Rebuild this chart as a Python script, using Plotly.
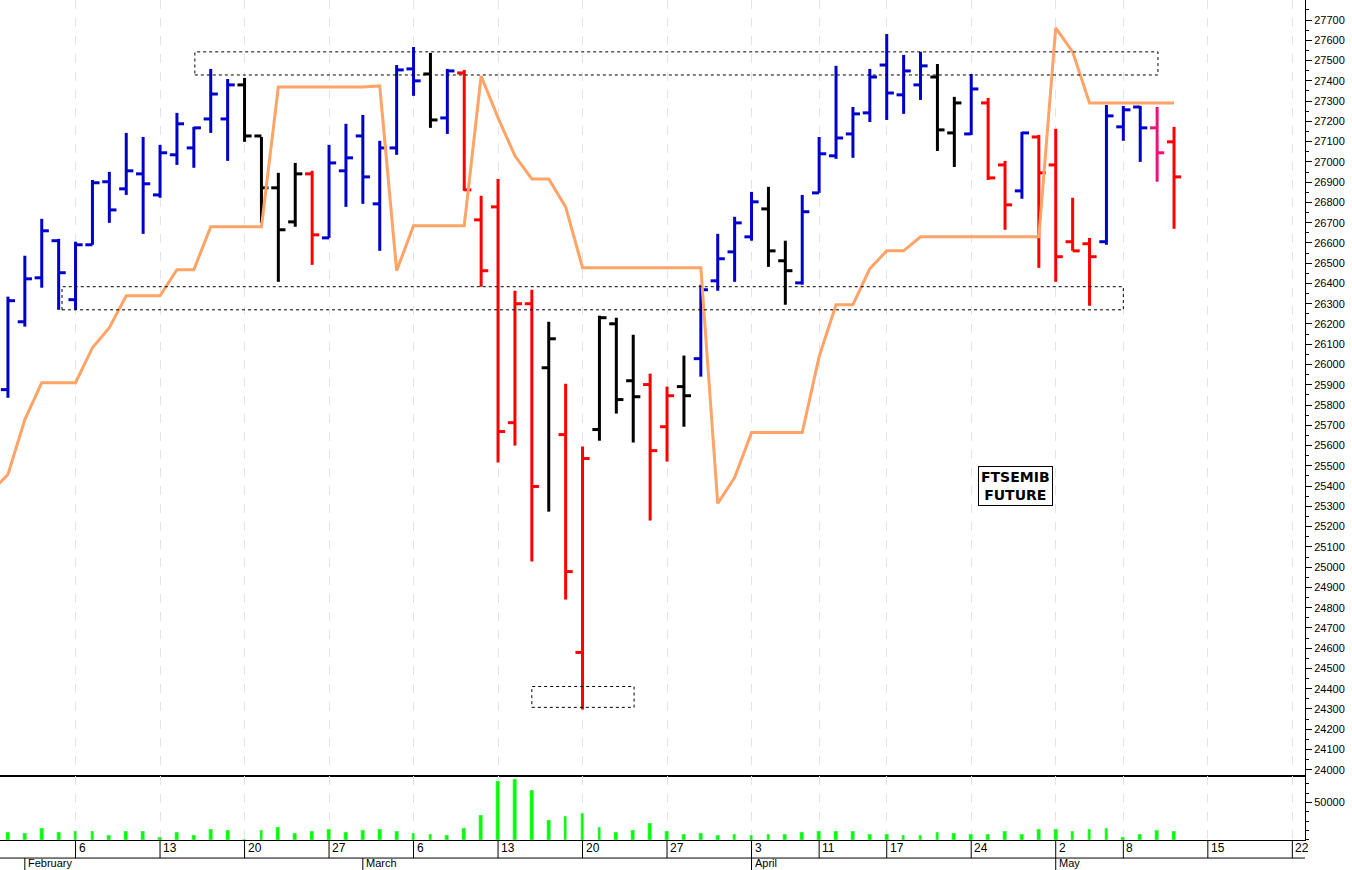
import plotly.graph_objects as go
from plotly.subplots import make_subplots

# daily bars, index 0 = 31 Jan
opens = [25876, 26211, 26428, 26611, 26320, 26591, 26902, 26867, 26941, 26837,
         27035, 27069, 27212, 27212, 27380, 27128, 26872, 26704, 26941, 26625,
         26956, 27128, 26793, 27069, 27459, 27434, 27217, 27439, 26714, 26778,
         25713, 26300, 25984, 25654, 24579, 25679, 26201, 25920, 25901, 25693,
         25891, 26029, 26413, 26556, 26630, 26768, 26512, 26403, 26847, 27030,
         27138, 27242, 27478, 27331, 27380, 27419, 27143, 27138, 27291, 26985,
         26857, 27123, 26985, 26606, 26596, 26606, 27173, 27271, 27168, 27099]
highs = [26335, 26537, 26719, 26620, 26606, 26911, 26951, 27143, 27123, 27084,
         27242, 27173, 27459, 27409, 27414, 27123, 26946, 26995, 26956, 27084,
         27188, 27232, 27104, 27478, 27567, 27538, 27459, 27454, 26833, 26916,
         26364, 26369, 26211, 25905, 25595, 26241, 26231, 26147, 25955, 25891,
         26044, 26394, 26645, 26729, 26852, 26877, 26611, 26837, 27123, 27474,
         27271, 27459, 27631, 27528, 27543, 27483, 27321, 27434, 27316, 27005,
         27148, 27133, 27163, 26823, 26625, 27281, 27276, 27276, 27271, 27173]
lows = [25836, 26187, 26379, 26270, 26270, 26591, 26699, 26837, 26645, 26823,
        26985, 26971, 27143, 27005, 27099, 26699, 26408, 26680, 26492, 26625,
        26778, 26793, 26561, 27035, 27326, 27168, 27138, 26857, 26384, 25516,
        25600, 25028, 25274, 24840, 24298, 25624, 25758, 25615, 25230, 25521,
        25693, 25940, 26364, 26408, 26611, 26482, 26295, 26394, 26847, 27015,
        27020, 27197, 27207, 27237, 27306, 27054, 26975, 27133, 26911, 26665,
        26818, 26477, 26408, 26561, 26290, 26591, 27104, 27000, 26902, 26670]
closes = [26315, 26423, 26660, 26453, 26591, 26897, 26763, 26956, 26892, 27045,
          27188, 27168, 27335, 27380, 27128, 26872, 26665, 26941, 26640, 26995,
          27020, 26926, 27069, 27454, 27400, 27207, 27449, 26862, 26463, 25669,
          26300, 25398, 26127, 24978, 25536, 26231, 25827, 25841, 25575, 25846,
          25846, 26369, 26522, 26699, 26803, 26561, 26463, 26754, 27040, 27118,
          27237, 27419, 27340, 27449, 27474, 27158, 27291, 27360, 26921, 26788,
          27143, 26946, 26532, 26561, 26532, 27227, 27257, 27168, 27045, 26926]
bar_colors = (["blue"] * 14 + ["black"] * 4 + ["red"] + ["blue"] * 6 + ["black"] + ["blue"]
              + ["red"] * 5 + ["black"] + ["red"] * 2 + ["black"] * 3 + ["red"] * 2 + ["black"]
              + ["blue"] * 4 + ["black"] * 2 + ["blue"] * 8 + ["black"] * 2 + ["blue"]
              + ["red"] * 2 + ["blue"] + ["red"] * 4 + ["blue"] * 3 + ["pink"] + ["red"])
volumes = [10800, 9000, 15800, 10800, 11300, 12200, 6300, 11700, 12200, 4000,
           9900, 6800, 14400, 13500, 1400, 13100, 17100, 9500, 11700, 14400,
           10800, 13100, 14400, 11700, 9500, 8100, 6800, 16200, 32400, 77900,
           81100, 66200, 27000, 31100, 36000, 17600, 10400, 13100, 23000, 11700,
           8100, 9000, 5900, 7700, 6300, 7200, 7700, 10400, 11300, 11700,
           11700, 7200, 7700, 5900, 5900, 10400, 9000, 7700, 7700, 11300,
           7700, 14000, 14000, 11300, 14000, 15300, 3600, 7200, 13100, 11700]

# orange trailing line, index -1 .. 69
line_vals = [25373, 25457, 25728, 25910, 25910, 25910, 26083, 26182, 26339, 26339,
             26339, 26468, 26468, 26680, 26680, 26680, 26680, 27370, 27370, 27370,
             27370, 27370, 27370, 27375, 26463, 26685, 26685, 26685, 26685, 27424,
             27217, 27030, 26916, 26916, 26778, 26478, 26478, 26478, 26478, 26478,
             26478, 26478, 26478, 25314, 25442, 25664, 25664, 25664, 25664, 26039,
             26295, 26295, 26473, 26561, 26561, 26630, 26630, 26630, 26630, 26630,
             26630, 26630, 26630, 27661, 27543, 27291, 27291, 27291, 27291, 27291,
             27291]

week_idx = [-1, 4, 9, 14, 19, 24, 29, 34, 39, 44, 48, 52, 57, 62, 66, 71, 76]
week_lbl = ["30", "6", "13", "20", "27", "6", "13", "20", "27", "3", "11", "17", "24", "2", "8", "15", "22"]
month_idx = [1, 21, 44, 62]
month_lbl = ["February", "March", "April", "May"]

palette = {"blue": "#0000CC", "black": "#000000", "red": "#FF0000", "pink": "#F0107A"}
FONT = "Liberation Sans, Arial, sans-serif"

fig = make_subplots(rows=2, cols=1, shared_xaxes=True, vertical_spacing=0.0012,
                    row_heights=[0.924, 0.076])

# bars drawn as open-left / close-right ticks
for cname, col in palette.items():
    xs, ys = [], []
    for i in range(len(opens)):
        if bar_colors[i] != cname:
            continue
        xs += [i, i, None, i - 0.42, i, None, i, i + 0.42, None]
        ys += [lows[i], highs[i], None, opens[i], opens[i], None, closes[i], closes[i], None]
    fig.add_trace(go.Scatter(x=xs, y=ys, mode="lines", line=dict(color=col, width=3),
                             hoverinfo="skip", showlegend=False), row=1, col=1)

fig.add_trace(go.Scatter(x=list(range(-1, len(line_vals) - 1)), y=line_vals, mode="lines",
                         line=dict(color="#FFA366", width=3), showlegend=False), row=1, col=1)

fig.add_trace(go.Bar(x=list(range(len(volumes))), y=volumes, marker_color="#00FF00",
                     width=0.22, showlegend=False), row=2, col=1)

# dashed zones
for x0, x1, y0, y1 in [(11.06, 68.05, 27429, 27543), (3.2, 66.0, 26270, 26384), (31.0, 37.05, 24308, 24411)]:
    fig.add_shape(type="rect", x0=x0, x1=x1, y0=y0, y1=y1, xref="x", yref="y",
                  line=dict(color="black", width=1, dash="dot"))

fig.add_annotation(x=59.6, y=25400, xref="x", yref="y", text="<b>FTSEMIB<br>FUTURE</b>",
                   showarrow=False, bordercolor="black", borderwidth=1, bgcolor="white",
                   font=dict(family="DejaVu Sans", size=14, color="black"), borderpad=2)

# bottom date rows
for xi, t in zip(week_idx, week_lbl):
    fig.add_annotation(x=xi, y=0, xref="x2", yref="paper", text=t, showarrow=False,
                       xanchor="left", yanchor="top", xshift=1, yshift=1,
                       font=dict(family=FONT, size=12, color="black"))
    fig.add_shape(type="line", x0=xi, x1=xi, y0=0, y1=-0.0215, xref="x2", yref="paper",
                  line=dict(color="black", width=1))
for xi, t in zip(month_idx, month_lbl):
    fig.add_annotation(x=xi, y=-0.0215, xref="x2", yref="paper", text=t, showarrow=False,
                       xanchor="left", yanchor="top", xshift=1, yshift=3,
                       font=dict(family=FONT, size=11, color="black"))
    fig.add_shape(type="line", x0=xi, x1=xi, y0=-0.0215, y1=-0.04, xref="x2", yref="paper",
                  line=dict(color="black", width=1))
fig.add_shape(type="line", x0=0, x1=1, y0=-0.0215, y1=-0.0215, xref="paper", yref="paper",
              line=dict(color="black", width=1))

xcommon = dict(range=[-0.47, 76.75], tickvals=week_idx, showgrid=True, griddash="dash",
               gridcolor="#E4E4E4", gridwidth=1, zeroline=False, showticklabels=False, ticks="")
fig.update_xaxes(**xcommon)
fig.update_xaxes(showline=True, linecolor="black", linewidth=1.5, row=1, col=1)
fig.update_xaxes(showline=True, linecolor="black", linewidth=1, row=2, col=1)

fig.update_yaxes(side="right", range=[23973, 27799], dtick=100, tick0=24000, showgrid=False,
                 zeroline=False, ticks="outside", ticklen=6, tickcolor="black", tickformat="d",
                 showline=True, linecolor="black", linewidth=1,
                 minor=dict(dtick=50, ticklen=3, ticks="outside", tickcolor="black", showgrid=False),
                 tickfont=dict(family=FONT, size=11, color="black"), row=1, col=1)
fig.update_yaxes(side="right", range=[0, 85100], tickvals=[50000], showgrid=False,
                 zeroline=False, ticks="outside", ticklen=6, tickcolor="black", tickformat="d",
                 showline=True, linecolor="black", linewidth=1,
                 minor=dict(dtick=12500, ticklen=3, ticks="outside", tickcolor="black", showgrid=False),
                 tickfont=dict(family=FONT, size=11, color="black"), row=2, col=1)

fig.update_layout(width=1352, height=870, margin=dict(l=0, r=47, t=0, b=30),
                  plot_bgcolor="white", paper_bgcolor="white", showlegend=False,
                  bargap=0, font=dict(family=FONT))

fig.write_html("out.html", config={"displayModeBar": False},
               post_script="document.body.style.margin='0';")
